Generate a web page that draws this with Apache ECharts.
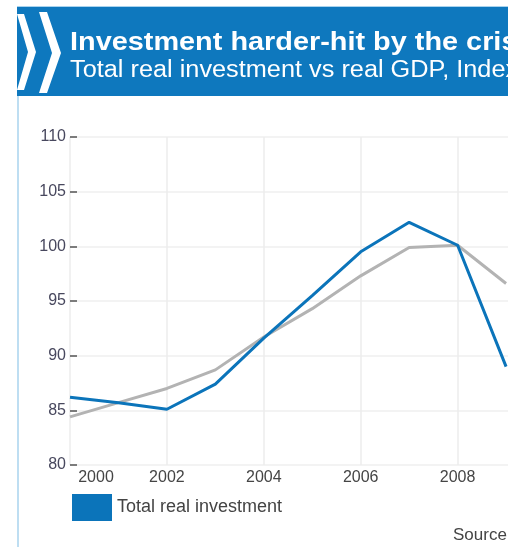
<!DOCTYPE html>
<html>
<head>
<meta charset="utf-8">
<script src="https://cdn.jsdelivr.net/npm/echarts@6/dist/echarts.min.js"></script>
<style>
html,body{margin:0;padding:0;background:#fff;}
#c{width:508px;height:547px;}
</style>
</head>
<body>
<div id="c"></div>
<script>
const years = [2000, 2001, 2002, 2003, 2004, 2005, 2006, 2007, 2008, 2009];
const investment = [86.2, 85.7, 85.1, 87.4, 91.6, 95.5, 99.5, 102.2, 100.1, 89.0];
const gdp = [84.4, 85.7, 87.0, 88.7, 91.7, 94.3, 97.3, 99.9, 100.1, 96.6];
const yTicks = [80, 85, 90, 95, 100, 105, 110];
const xTicks = [2000, 2002, 2004, 2006, 2008];
const titleText = 'Investment harder-hit by the crisis';
const subtitleText = 'Total real investment vs real GDP, Index 2008=100';
const sourceText = 'Source: OECD Economic Outlook';
const seriesNames = ['Total real investment', 'Real GDP'];

const chart = echarts.init(document.getElementById('c'), null, {renderer: 'canvas'});
const FONT = '"Liberation Sans", Arial, sans-serif';
const BLUE = '#0b74ba';
const GRAY = '#b3b3b3';

chart.setOption({
  animation: false,
  backgroundColor: '#fff',
  textStyle: {fontFamily: FONT},
  grid: {left: 70, top: 137, right: 0, height: 328, containLabel: false},
  legend: {
    data: [seriesNames[0]],
    left: 72, top: 494, padding: 0,
    icon: 'rect', itemWidth: 40, itemHeight: 27, itemGap: 10,
    textStyle: {fontSize: 18, color: '#444', fontFamily: FONT}
  },
  xAxis: {
    type: 'value', min: 2000, max: 2009.04, interval: 2,
    axisLine: {show: false},
    axisTick: {show: false},
    splitLine: {show: true, showMaxLine: false, lineStyle: {color: '#ececec', width: 1.5}},
    axisLabel: {
      fontSize: 16, color: '#454545', margin: 5, fontFamily: FONT,
      showMaxLabel: false,
      formatter: function (v) {
        if (xTicks.indexOf(v) < 0) return '';
        return v === xTicks[0] ? '{f|' + v + '}' : String(v);
      },
      rich: {f: {fontSize: 16, color: '#454545', padding: [0, 0, 0, 52], fontFamily: FONT}}
    }
  },
  yAxis: {
    type: 'value', min: yTicks[0], max: yTicks[yTicks.length - 1], interval: 5,
    axisLine: {show: false},
    axisTick: {show: true, inside: true, length: 7, lineStyle: {color: '#555', width: 1.5}},
    splitLine: {show: true, lineStyle: {color: '#efefef', width: 1.5}},
    axisLabel: {fontSize: 16, color: '#48485e', margin: 4, fontFamily: FONT}
  },
  series: [
    {
      name: seriesNames[0], type: 'line', symbol: 'none',
      data: years.map((y, i) => [y, investment[i]]),
      lineStyle: {color: BLUE, width: 3}, itemStyle: {color: BLUE}, z: 3
    },
    {
      name: seriesNames[1], type: 'line', symbol: 'none',
      data: years.map((y, i) => [y, gdp[i]]),
      lineStyle: {color: GRAY, width: 3}, itemStyle: {color: GRAY}, z: 2
    }
  ],
  graphic: [
    {type: 'line', shape: {x1: 18, y1: 96, x2: 18, y2: 547}, style: {stroke: '#a9d3ee', lineWidth: 1.5}, silent: true},
    {type: 'line', shape: {x1: 17, y1: 6.5, x2: 508, y2: 6.5}, style: {stroke: '#a9d3ee', lineWidth: 1}, silent: true},
    {type: 'rect', shape: {x: 17, y: 7, width: 491, height: 89}, style: {fill: '#0e78be'}, silent: true},
    {type: 'polygon', shape: {points: [[17, 14], [24, 14], [36, 52], [24, 90], [17, 90], [28, 52]]}, style: {fill: '#fff'}, silent: true},
    {type: 'polygon', shape: {points: [[39, 12], [47, 12], [61, 53], [47, 93], [39, 93], [52, 53]]}, style: {fill: '#fff'}, silent: true},
    {type: 'text', x: 70, y: 30, scaleX: 1.11, style: {x: 0, y: 0, text: titleText, fill: '#fff', font: 'bold 26px ' + FONT, verticalAlign: 'top'}, silent: true},
    {type: 'text', x: 70, y: 59, scaleX: 1.1, style: {x: 0, y: 0, text: subtitleText, fill: '#fff', font: '23px ' + FONT, verticalAlign: 'top'}, silent: true},
    {type: 'text', left: 453, top: 527, style: {text: sourceText, fill: '#444', font: '17px ' + FONT}, silent: true}
  ]
});
</script>
</body>
</html>
